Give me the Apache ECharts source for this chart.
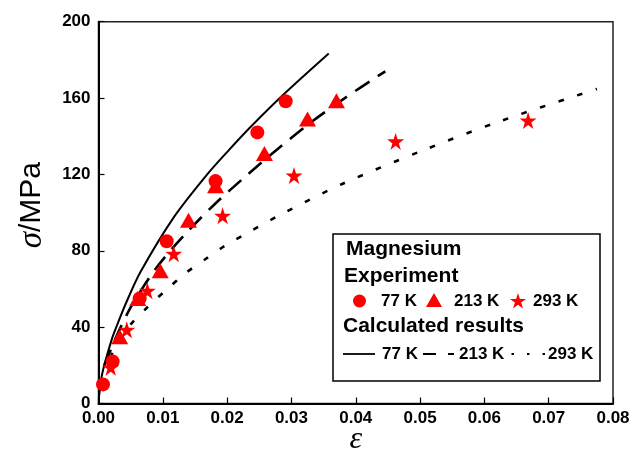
<!DOCTYPE html>
<html>
<head>
<meta charset="utf-8">
<script src="https://cdn.jsdelivr.net/npm/echarts@6/dist/echarts.min.js"></script>
<style>html,body{margin:0;padding:0;background:#fff}#c{width:635px;height:457px}</style>
</head>
<body>
<div id="c"></div>
<script>
// Experimental points [strain, stress MPa]
var exp77 = [[0.0007,10],[0.0022,22],[0.0064,55],[0.0106,85],[0.0182,116.5],[0.0247,142],[0.0291,158.3]];
var exp213 = [[0.0033,35],[0.0061,55],[0.0096,69.5],[0.014,96],[0.0182,114],[0.0258,131],[0.0325,149],[0.037,158.6]];
var exp293 = [[0.0019,19],[0.0044,38.6],[0.0076,59],[0.0117,78.4],[0.0193,98.4],[0.0304,119.4],[0.0462,137.3],[0.0668,148.2]];
// Calculated curves
var calc77 = [[0.0001,4],[0.0006,16],[0.0021,34],[0.003,42],[0.0042,52],[0.0065,68.7],[0.0117,97.5],[0.0169,120],[0.0202,132.5],[0.0236,144.7],[0.0288,162],[0.0358,183.4]];
var calc213 = [[0.0009,20],[0.0029,36],[0.0052,51.5],[0.0091,71.5],[0.0134,88.4],[0.0181,104.5],[0.023,119.4],[0.0281,134],[0.0332,147.7],[0.0383,160],[0.0434,171.4],[0.0446,174]];
var calc293 = [[0.0018,24],[0.0027,29.5],[0.0049,41],[0.0076,50.4],[0.0107,60],[0.0135,68.2],[0.0167,75.8],[0.0197,82.7],[0.0227,88.5],[0.0288,99.8],[0.0379,115],[0.05,132],[0.0622,147.6],[0.0775,164.8]];
var legendTitle = 'Magnesium';
var expTitle = 'Experiment';
var calcTitle = 'Calculated results';
var tempLabels = ['77 K','213 K','293 K'];

var STAR = 'path://M50,0 L61.2,34.5 L97.6,34.5 L68.2,55.9 L79.4,90.5 L50,69.1 L20.6,90.5 L31.8,55.9 L2.4,34.5 L38.8,34.5 Z';
var RED = '#ff0000';
var F = 'Liberation Sans, Arial, sans-serif';

var chart = echarts.init(document.getElementById('c'));
var lx = 333, ly = 234;
chart.setOption({
  animation: false,
  grid: {left: 98.5, right: 22, top: 21.7, bottom: 53.5, show: true, borderColor: '#222', borderWidth: 1.5,
    containLabel: false, outerBoundsMode: 'none'},
  xAxis: {
    type: 'value', min: 0, max: 0.08, interval: 0.01,
    axisLine: {show: true, lineStyle: {color: '#000', width: 2}},
    axisTick: {inside: true, length: 6, lineStyle: {color: '#000', width: 1.2}},
    splitLine: {show: false},
    axisLabel: {color: '#000', fontFamily: F, fontWeight: 'bold', fontSize: 17, margin: 6,
      formatter: function(v){ return v.toFixed(2); }},
    name: 'ε', nameLocation: 'middle', nameGap: 20, nameMoveOverlap: false,
    nameTextStyle: {fontFamily: 'Liberation Serif, Times New Roman, serif', fontStyle: 'italic', fontSize: 32, color: '#000'}
  },
  yAxis: {
    type: 'value', min: 0, max: 200, interval: 40,
    axisLine: {show: true, lineStyle: {color: '#000', width: 2}},
    axisTick: {inside: true, length: 6, lineStyle: {color: '#000', width: 1.2}},
    splitLine: {show: false},
    axisLabel: {color: '#000', fontFamily: F, fontWeight: 'bold', fontSize: 17, margin: 8},
    name: '{s|σ}{m|/MPa}', nameLocation: 'middle', nameGap: 50,
    nameTextStyle: {padding: [0, 0, 0, 15], rich: {
      s: {fontFamily: 'Liberation Serif, Times New Roman, serif', fontStyle: 'italic', fontSize: 33, color: '#000'},
      m: {fontFamily: F, fontSize: 30, color: '#000'}
    }}
  },
  series: [
    {type: 'line', data: calc77, smooth: 0.3, showSymbol: false, lineStyle: {color: '#000', width: 2}, z: 2},
    {type: 'line', data: calc213, smooth: 0.3, showSymbol: false, lineStyle: {color: '#000', width: 2.6, type: [17, 10]}, z: 2},
    {type: 'line', data: calc293, smooth: 0.3, showSymbol: false, lineStyle: {color: '#000', width: 2.6, type: [5.5, 14]}, z: 2},
    {type: 'scatter', data: exp77, symbol: 'circle', symbolSize: 14, itemStyle: {color: RED, opacity: 1}, z: 3},
    {type: 'scatter', data: exp213, symbol: 'triangle', symbolSize: [17, 15], itemStyle: {color: RED, opacity: 1}, z: 3},
    {type: 'scatter', data: exp293, symbol: STAR, symbolSize: 17, itemStyle: {color: RED, opacity: 1}, z: 3}
  ],
  graphic: [
    {type: 'rect', shape: {x: lx, y: ly, width: 267, height: 147}, style: {fill: '#fff', stroke: '#000', lineWidth: 1.5}, z: 10},
    {type: 'text', x: 346, y: 249, style: {text: legendTitle, font: 'bold 21px ' + F, fill: '#000', verticalAlign: 'middle'}, z: 11},
    {type: 'text', x: 344, y: 276, style: {text: expTitle, font: 'bold 21px ' + F, fill: '#000', verticalAlign: 'middle'}, z: 11},
    {type: 'circle', shape: {cx: 359.5, cy: 301, r: 6.5}, style: {fill: RED}, z: 11},
    {type: 'text', x: 381, y: 301, style: {text: tempLabels[0], font: 'bold 17px ' + F, fill: '#000', verticalAlign: 'middle'}, z: 11},
    {type: 'polygon', shape: {points: [[434, 293], [442, 307], [426, 307]]}, style: {fill: RED}, z: 11},
    {type: 'text', x: 454, y: 301, style: {text: tempLabels[1], font: 'bold 17px ' + F, fill: '#000', verticalAlign: 'middle'}, z: 11},
    {type: 'polygon', shape: {points: [[518,293],[519.9,298.9],[526.1,298.9],[521.1,302.5],[523,308.4],[518,304.8],[513,308.4],[514.9,302.5],[509.9,298.9],[516.1,298.9]]}, style: {fill: RED}, z: 11},
    {type: 'text', x: 533, y: 301, style: {text: tempLabels[2], font: 'bold 17px ' + F, fill: '#000', verticalAlign: 'middle'}, z: 11},
    {type: 'text', x: 343, y: 326, style: {text: calcTitle, font: 'bold 21px ' + F, fill: '#000', verticalAlign: 'middle'}, z: 11},
    {type: 'line', shape: {x1: 343, y1: 354, x2: 375, y2: 354}, style: {stroke: '#000', lineWidth: 1.8}, z: 11},
    {type: 'text', x: 382, y: 354, style: {text: tempLabels[0], font: 'bold 17px ' + F, fill: '#000', verticalAlign: 'middle'}, z: 11},
    {type: 'line', shape: {x1: 423, y1: 354, x2: 454, y2: 354}, style: {stroke: '#000', lineWidth: 1.8, lineDash: [13, 12]}, z: 11},
    {type: 'text', x: 459, y: 354, style: {text: tempLabels[1], font: 'bold 17px ' + F, fill: '#000', verticalAlign: 'middle'}, z: 11},
    {type: 'line', shape: {x1: 511.5, y1: 354, x2: 546, y2: 354}, style: {stroke: '#000', lineWidth: 1.8, lineDash: [2.5, 13]}, z: 11},
    {type: 'text', x: 548, y: 354, style: {text: tempLabels[2], font: 'bold 17px ' + F, fill: '#000', verticalAlign: 'middle'}, z: 11}
  ]
});
</script>
</body>
</html>
